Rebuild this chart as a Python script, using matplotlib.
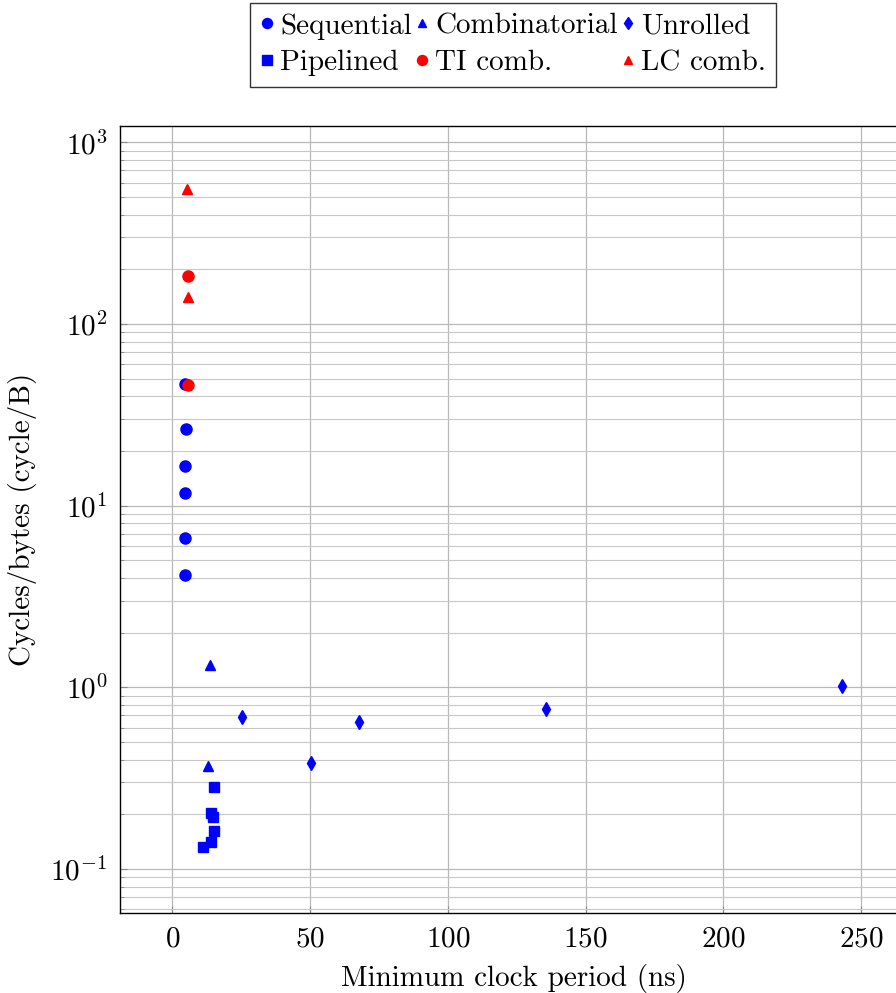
import matplotlib
matplotlib.use("Agg")
import matplotlib.pyplot as plt
from matplotlib.ticker import LogLocator, NullFormatter

plt.rcParams['font.family'] = ['cmr10', 'DejaVu Serif']
plt.rcParams['mathtext.fontset'] = 'cm'
plt.rcParams['axes.formatter.use_mathtext'] = True

seq_x = [4.6, 4.8, 4.6, 4.6, 4.6, 4.6]
seq_y = [47, 26.5, 16.6, 11.8, 6.66, 4.17]
comb_x = [13.8, 13.1]
comb_y = [1.33, 0.369]
unr_x = [25.3, 50.4, 67.8, 135.7, 243.1]
unr_y = [0.69, 0.384, 0.645, 0.762, 1.01]
pipe_x = [15.0, 13.9, 14.8, 15.1, 14.1, 11.3]
pipe_y = [0.283, 0.203, 0.192, 0.162, 0.141, 0.132]
ti_x = [5.8, 5.8]
ti_y = [183, 46]
lc_x = [5.4, 5.8]
lc_y = [551, 141]

fig = plt.figure(figsize=(8.96, 9.93), dpi=100)
ax = fig.add_axes([120/896, 80.5/993, 788/896, 786.5/993])
ax.set_yscale('log')

ms = 8.0
h_seq, = ax.plot(seq_x, seq_y, 'o', color='blue', ms=ms, ls='none', label='Sequential')
h_comb, = ax.plot(comb_x, comb_y, '^', color='blue', ms=6.5, ls='none', label='Combinatorial')
h_unr, = ax.plot(unr_x, unr_y, 'd', color='blue', ms=7.0, ls='none', label='Unrolled')
h_pipe, = ax.plot(pipe_x, pipe_y, 's', color='blue', ms=7.5, ls='none', label='Pipelined')
h_ti, = ax.plot(ti_x, ti_y, 'o', color='red', ms=ms, ls='none', label='TI comb.')
h_lc, = ax.plot(lc_x, lc_y, '^', color='red', ms=6.5, ls='none', label='LC comb.')

ax.set_xlim(-19.0, 267.0)
ax.set_ylim(10**-1.24, 10**3.09)
ax.set_xticks([0, 50, 100, 150, 200, 250])
ax.yaxis.set_major_locator(LogLocator(base=10, numticks=10))
ax.yaxis.set_minor_locator(LogLocator(base=10, subs=range(2, 10), numticks=20))
ax.yaxis.set_minor_formatter(NullFormatter())

ax.grid(True, which='major', color='#b8b8b8', lw=0.9)
ax.grid(True, which='minor', axis='y', color='#c8c8c8', lw=0.8)
ax.set_axisbelow(True)
ax.tick_params(axis='both', which='major', direction='in', length=5, labelsize=21, color='#888888')
ax.tick_params(axis='x', which='major', pad=10)
ax.tick_params(axis='y', which='major', pad=9)
ax.tick_params(axis='y', which='minor', direction='in', length=3, color='#888888')
for s in ax.spines.values():
    s.set_linewidth(1.0)

ax.set_xlabel('Minimum clock period (ns)', fontsize=21, labelpad=8)
ax.set_ylabel('Cycles/bytes (cycle/B)', fontsize=21, labelpad=10)

handles = [h_seq, h_pipe, h_comb, h_ti, h_unr, h_lc]
leg = fig.legend(handles=handles, loc='upper center', bbox_to_anchor=(513/896, 1 - 3/993),
                 ncol=3, fontsize=21, frameon=True, fancybox=False, edgecolor='black',
                 handlelength=0.5, handletextpad=0.2, columnspacing=0.1, borderpad=0.35,
                 labelspacing=0.35, borderaxespad=0, markerscale=0.9)
leg.get_frame().set_linewidth(1.0)

fig.savefig('out.png', dpi=100)
